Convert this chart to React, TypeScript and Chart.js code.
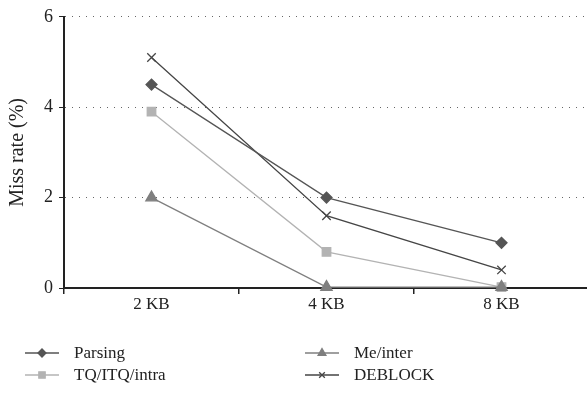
import React, { useEffect, useRef } from "react";
import { Chart, registerables } from "chart.js";
import { drawPoint } from "chart.js/helpers";

Chart.register(...registerables);

const categories = ["2 KB", "4 KB", "8 KB"];
const parsing = [4.5, 2.0, 1.0];
const tqItqIntra = [3.9, 0.8, 0.02];
const meInter = [2.0, 0.02, 0.02];
const deblock = [5.1, 1.6, 0.4];
const yTicks = [0, 2, 4, 6];

const FONT = "'Liberation Serif', 'DejaVu Serif', serif";

const series = [
  { label: "Parsing", data: parsing, color: "#555555", style: "rectRot", radius: 5.5, legendRadius: 4 },
  { label: "Me/inter", data: meInter, color: "#7f7f7f", style: "triangle", radius: 6.5, legendRadius: 4.5 },
  { label: "TQ/ITQ/intra", data: tqItqIntra, color: "#b3b3b3", style: "rect", radius: 6, legendRadius: 4.5 },
  { label: "DEBLOCK", data: deblock, color: "#454545", style: "crossRot", radius: 6, legendRadius: 4 },
];

const legendPositions: Record<string, [number, number]> = {
  "Parsing": [25, 353],
  "TQ/ITQ/intra": [25, 375],
  "Me/inter": [305, 353],
  "DEBLOCK": [305, 375],
};

const legendPlugin = {
  id: "customLegend",
  afterDraw(chart: any) {
    const ctx = chart.ctx;
    ctx.save();
    chart.data.datasets.forEach((ds: any, i: number) => {
      const pos = legendPositions[ds.label];
      if (!pos) return;
      const [x, y] = pos;
      ctx.strokeStyle = ds.borderColor;
      ctx.lineWidth = 1.3;
      ctx.beginPath();
      ctx.moveTo(x, y);
      ctx.lineTo(x + 34, y);
      ctx.stroke();
      ctx.fillStyle = ds.backgroundColor;
      ctx.strokeStyle = ds.borderColor;
      drawPoint(ctx, { pointStyle: ds.pointStyle, radius: series[i].legendRadius, borderWidth: 1.2, rotation: 0 }, x + 17, y);
      ctx.fillStyle = "#222";
      ctx.font = `17px ${FONT}`;
      ctx.textBaseline = "middle";
      ctx.textAlign = "left";
      ctx.fillText(ds.label, x + 49, y + 1);
    });
    ctx.restore();
  },
};

export default function App() {
  const ref = useRef<HTMLCanvasElement>(null);
  useEffect(() => {
    if (!ref.current) return;
    const chart = new Chart(ref.current, {
      type: "line",
      data: {
        labels: categories,
        datasets: series.map((s) => ({
          label: s.label,
          data: s.data,
          borderColor: s.color,
          backgroundColor: s.color,
          pointBackgroundColor: s.color,
          pointBorderColor: s.color,
          pointStyle: s.style as any,
          pointRadius: s.radius,
          pointBorderWidth: 1.3,
          borderWidth: 1.3,
          tension: 0,
          clip: false as any,
        })),
      },
      options: {
        animation: false,
        responsive: false,
        maintainAspectRatio: false,
        layout: { autoPadding: false, padding: { top: 16, right: 1, left: 0, bottom: 0 } },
        plugins: {
          legend: { display: false },
          tooltip: { enabled: false },
        },
        scales: {
          x: {
            offset: true,
            afterFit: (scale: any) => {
              scale.height = 112;
            },
            grid: {
              offset: true,
              drawOnChartArea: false,
              drawTicks: true,
              tickLength: 6,
              color: "#222",
              lineWidth: 1.5,
            },
            border: { color: "#222", width: 2 },
            ticks: {
              color: "#222",
              font: { family: FONT, size: 17 },
              padding: 0,
            },
          },
          y: {
            min: 0,
            max: 6,
            afterFit: (scale: any) => {
              scale.width = 64;
            },
            afterBuildTicks: (scale: any) => {
              scale.ticks = yTicks.map((v) => ({ value: v }));
            },
            grid: {
              drawTicks: true,
              tickLength: 5,
              color: (c: any) => (c.tick && c.tick.value === 0 ? "rgba(0,0,0,0)" : "#666"),
              tickColor: "#222",
              lineWidth: 1,
            },
            border: { color: "#222", width: 2, dash: [1, 6], display: true },
            ticks: {
              color: "#222",
              font: { family: FONT, size: 18 },
              padding: 6,
            },
            title: {
              display: true,
              text: "Miss rate (%)",
              color: "#222",
              font: { family: FONT, size: 20 },
              padding: { top: 6, bottom: 2 },
            },
          },
        },
      },
      plugins: [legendPlugin],
    });
    return () => chart.destroy();
  }, []);
  return (
    <div style={{ position: "fixed", left: 0, top: 0, width: 587, height: 400, background: "#fff", overflow: "hidden" }}>
      <canvas ref={ref} width={590} height={400} style={{ width: 590, height: 400 }} />
    </div>
  );
}
